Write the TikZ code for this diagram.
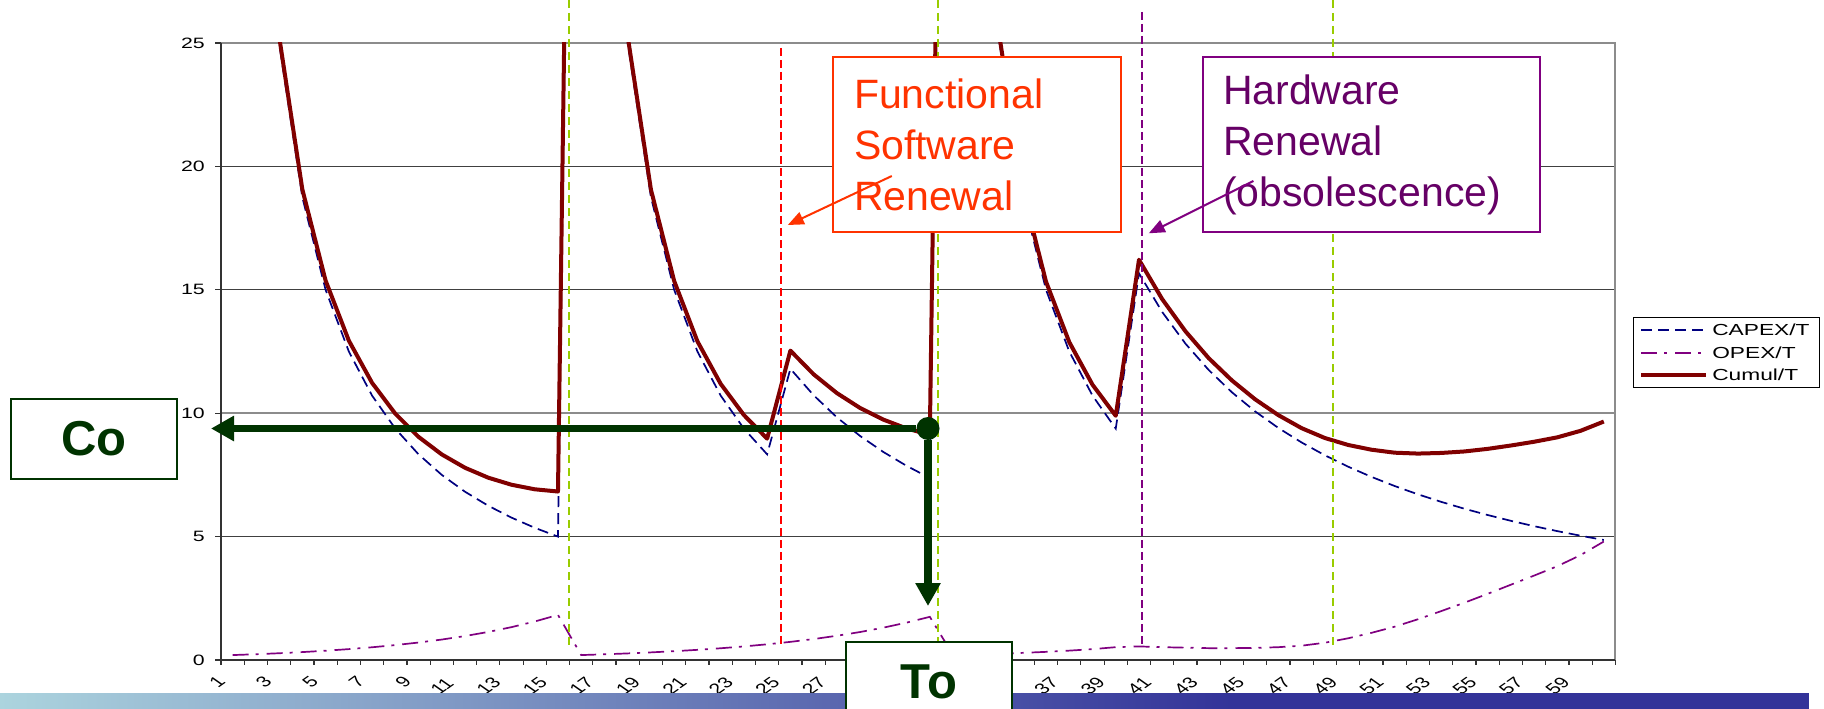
\documentclass[tikz,border=0pt]{standalone}
\usepackage{fontspec}
\setmainfont{Liberation Sans}
\usetikzlibrary{arrows.meta}
\definecolor{cumulc}{HTML}{800000}
\definecolor{capexc}{HTML}{000080}
\definecolor{opexc}{HTML}{800080}
\definecolor{limec}{HTML}{99CC00}
\definecolor{fswc}{HTML}{FF3300}
\definecolor{hwtxt}{HTML}{660066}
\definecolor{hwbox}{HTML}{800080}
\definecolor{dkgreen}{HTML}{003300}
\definecolor{barL}{HTML}{ACD4DE}
\definecolor{barR}{HTML}{333399}
\definecolor{gridc}{HTML}{404040}
\definecolor{framec}{HTML}{8C8C8C}
\definecolor{axisc}{HTML}{333333}
\begin{document}
\begin{tikzpicture}[x=1pt,y=-1pt,
  capexline/.style={capexc, line width=1.7pt, dash pattern=on 11pt off 6pt},
  opexline/.style={opexc, line width=1.7pt, dash pattern=on 16pt off 7pt on 3pt off 8pt},
  cumulline/.style={cumulc, line width=4pt, line join=round},
  guide/.style={limec, line width=2pt, dash pattern=on 8pt off 5pt},
  redguide/.style={red, line width=1.6pt, dash pattern=on 8pt off 4pt},
  purpguide/.style={opexc, line width=1.6pt, dash pattern=on 8pt off 4pt},
  ylbl/.style={font=\fontsize{15}{18}\selectfont, xscale=1.42, inner sep=0pt},
  xlbl/.style={font=\fontsize{15}{18}\selectfont, xscale=1.42, rotate=45, inner sep=0pt},
  lgdlbl/.style={font=\fontsize{16}{19}\selectfont, xscale=1.42, inner sep=0pt, anchor=west},
  callout/.style={draw, fill=white, line width=2pt, align=left, font=\fontsize{41}{51}\selectfont, anchor=north west, minimum height=175pt, inner ysep=0pt},
  gbox/.style={draw=dkgreen, fill=white, line width=2pt, text=dkgreen, font=\fontsize{49}{58}\selectfont\bfseries, minimum width=166pt, minimum height=80pt, anchor=north west, inner sep=0pt},
  garrow/.style={dkgreen, line width=7.7pt, -{Triangle[length=23pt,width=24pt]}},
  carrow/.style={line width=2pt, -{Triangle[length=16pt,width=13pt]}}
]
\useasboundingbox[fill=white] (0,0) rectangle (1824,709);

% ---------------- chart ----------------
\begin{scope}[shift={(209.38,660)}, x=23.24pt, y=24.68pt]
  \foreach \v in {5,15,20} \draw[gridc, line width=1pt] (0.5,\v) -- (60.5,\v);
  \draw[framec, line width=1.5pt] (0.5,10) -- (60.5,10);
  \draw[framec, line width=2pt] (0.5,25) -- (60.5,25) -- (60.5,0);
  \begin{scope}
    \clip (0.5,0) rectangle (60.5,25);
    \draw[capexline] plot coordinates {(1,75) (2,37.5) (3,25) (4,18.75) (5,15) (6,12.5) (7,10.714) (8,9.375) (9,8.333) (10,7.5) (11,6.818) (12,6.25) (13,5.769) (14,5.357) (15,5)
      (16,75) (17,37.5) (18,25) (19,18.75) (20,15) (21,12.5) (22,10.714) (23,9.375) (24,8.333) (25,11.8) (26,10.727) (27,9.833) (28,9.077) (29,8.429) (30,7.867) (31,7.375)
      (32,75) (33,37.5) (34,25) (35,18.75) (36,15) (37,12.5) (38,10.714) (39,9.375) (40,15.667) (41,14.1) (42,12.818) (43,11.75) (44,10.846) (45,10.071) (46,9.4) (47,8.813) (48,8.294) (49,7.833) (50,7.421) (51,7.05) (52,6.714) (53,6.409) (54,6.13) (55,5.875) (56,5.64) (57,5.423) (58,5.222) (59,5.036) (60,4.862)};
    \draw[opexline] plot coordinates {(1,0.2) (2,0.234) (3,0.274) (4,0.321) (5,0.376) (6,0.441) (7,0.516) (8,0.604) (9,0.708) (10,0.829) (11,0.971) (12,1.137) (13,1.332) (14,1.56) (15,1.827)
      (16,0.2) (17,0.231) (18,0.267) (19,0.309) (20,0.357) (21,0.412) (22,0.476) (23,0.55) (24,0.636) (25,0.735) (26,0.849) (27,0.982) (28,1.134) (29,1.311) (30,1.515) (31,1.75)
      (32,0.2) (33,0.23) (34,0.25) (35,0.29) (36,0.33) (37,0.38) (38,0.44) (39,0.52) (40,0.55) (41,0.52) (42,0.5) (43,0.48) (44,0.48) (45,0.49) (46,0.52) (47,0.58) (48,0.7) (49,0.88) (50,1.1) (51,1.35) (52,1.65) (53,1.98) (54,2.32) (55,2.68) (56,3.05) (57,3.42) (58,3.8) (59,4.25) (60,4.8)};
    \draw[cumulline] plot coordinates {(1,75.2) (2,37.734) (3,25.274) (4,19.071) (5,15.376) (6,12.941) (7,11.23) (8,9.979) (9,9.041) (10,8.329) (11,7.789) (12,7.387) (13,7.101) (14,6.917) (15,6.827)
      (16,75.2) (17,37.731) (18,25.267) (19,19.059) (20,15.357) (21,12.912) (22,11.19) (23,9.925) (24,8.969) (25,12.535) (26,11.576) (27,10.815) (28,10.211) (29,9.74) (30,9.382) (31,9.125)
      (32,75.2) (33,37.73) (34,25.25) (35,19.04) (36,15.33) (37,12.88) (38,11.154) (39,9.895) (40,16.217) (41,14.62) (42,13.318) (43,12.23) (44,11.326) (45,10.561) (46,9.92) (47,9.393) (48,8.994) (49,8.713) (50,8.521) (51,8.4) (52,8.364) (53,8.389) (54,8.45) (55,8.555) (56,8.69) (57,8.843) (58,9.022) (59,9.286) (60,9.662)};
  \end{scope}
  \draw[axisc, line width=1.8pt] (0.5,25) -- (0.5,0) -- (60.5,0);
  \foreach \k in {0,...,60} \draw[axisc, line width=1.2pt] (\k+0.5,0) -- ++(0pt,-4.5pt);
  \foreach \v in {0,5,...,25} {
    \draw[axisc, line width=1.2pt] (0.5,\v) -- ++(-6pt,0pt);
    \node[ylbl, anchor=east] (yl\v) at ([xshift=-16pt]0.5,\v) {\v};
  }
  \foreach \i in {1,3,...,27,37,39,...,59} {
    \ifnum\i<10 \def\dx{-15.5pt}\def\dy{-22pt}\else\def\dx{-23pt}\def\dy{-26pt}\fi
    \node[xlbl] (xl\i) at ([xshift=\dx,yshift=\dy]\i,0) {\i};
  }
\end{scope}

% ---------------- bottom bar ----------------
\shade[left color=barL, right color=barR] (0,693) rectangle (1231,709);
\fill[barR] (1230,693) rectangle (1809,709);

% ---------------- legend ----------------
\node[draw=black, fill=white, line width=1.2pt, minimum width=186pt, minimum height=70pt, anchor=north west, inner sep=0pt] (legend) at (1633,317) {};
\draw[capexline] (1641,330) -- (1706,330);
\node[lgdlbl] (lgcapex) at (1712,330) {CAPEX/T};
\draw[opexline] (1641,352.7) -- (1706,352.7);
\node[lgdlbl] (lgopex) at (1712,352.7) {OPEX/T};
\draw[cumulline] (1641,375) -- (1706,375);
\node[lgdlbl] (lgcumul) at (1712,375) {Cumul/T};

% ---------------- guide lines ----------------
\draw[guide] (569.4,0) -- (569.4,645);
\draw[guide] (938.1,0) -- (938.1,646);
\draw[guide] (1332.9,0) -- (1332.9,646);
\draw[redguide] (780.7,48) -- (780.7,647);
\draw[purpguide] (1141.7,12) -- (1141.7,647);

% ---------------- callouts ----------------
\node[callout, draw=fswc, text=fswc, text width=246pt, inner xsep=21pt] (fsw) at (832,56) {Functional\\Software\\Renewal};
\node[callout, draw=hwbox, text=hwtxt, text width=297pt, inner xsep=20pt] (hw) at (1202,56) {Hardware\\Renewal\\(obsolescence)};
\coordinate (fswfrom) at (891.8,176);
\coordinate (fswto) at (787.8,225);
\draw[carrow, fswc] (fswfrom) -- (fswto);
\coordinate (hwfrom) at (1253.4,181);
\coordinate (hwto) at (1148.8,233.3);
\draw[carrow, hwbox] (hwfrom) -- (hwto);

% ---------------- Co / To ----------------
\node[gbox] (cobox) at (10,398) {Co};
\node[gbox] (tobox) at (845,641) {To};
\node[circle, fill=dkgreen, minimum size=23pt, inner sep=0pt] (dot) at (928,428.5) {};
\draw[garrow, shorten >=33pt] (dot) -- (cobox.east |- dot);
\draw[garrow, shorten >=35pt] (dot) -- (dot |- tobox.north);
\end{tikzpicture}
\end{document}
